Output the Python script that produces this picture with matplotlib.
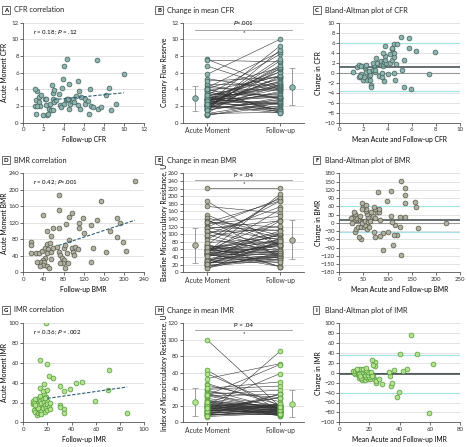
import numpy as np
import matplotlib
matplotlib.use("Agg")
import matplotlib.pyplot as plt

plt.rcParams['font.family'] = ['Lato', 'DejaVu Sans']
plt.rcParams['font.size'] = 4.8

# ---- CFR (follow-up, acute) ----
cfr_followup = [1.2, 1.25, 1.3, 1.4, 1.55, 1.6, 1.65, 1.75, 1.4, 2.0, 2.15, 2.3, 2.3, 2.4, 2.5,
                2.55, 2.65, 2.8, 3.0, 2.9, 3.0, 3.1, 3.0, 3.1, 3.25, 3.5, 3.6, 3.75, 3.85, 3.9,
                4.0, 4.05, 4.2, 4.3, 4.3, 4.45, 4.5, 4.5, 4.6, 4.8, 4.9, 5.0, 5.2, 5.4, 5.45,
                5.55, 5.6, 5.7, 6.1, 6.1, 6.45, 6.5, 6.6, 6.7, 6.9, 7.3, 7.4, 7.7, 8.2, 8.5,
                8.7, 9.2, 10.0, 1.2]
cfr_acute = [2.0, 1.1, 2.7, 3.8, 3.1, 2.5, 2.0, 3.3, 2.0, 0.9, 2.8, 2.8, 2.1, 0.9, 1.1,
             1.7, 2.3, 1.5, 1.5, 4.5, 3.6, 3.9, 2.9, 2.5, 2.7, 3.5, 2.1, 1.9, 4.2, 5.3,
             6.8, 2.2, 2.7, 2.9, 7.6, 2.8, 4.6, 1.6, 2.3, 2.6, 2.9, 2.5, 3.2, 2.1, 5.0,
             3.8, 1.6, 3.1, 2.9, 2.3, 2.6, 1.1, 4.1, 2.0, 1.9, 7.5, 1.7, 1.9, 3.3, 4.2,
             1.5, 2.3, 5.8, 4.1]

# ---- BMR ----
bmr_followup = [222, 70, 71, 155, 40, 97, 91, 118, 147, 187, 193, 135, 110, 111, 85, 71, 59, 48,
                55, 121, 172, 187, 198, 205, 165, 138, 135, 15, 15, 15, 25, 32, 37, 43, 47, 53,
                50, 48, 55, 43, 39, 35, 42, 40, 33, 27, 47, 51, 55, 60, 67, 70, 73, 77, 80,
                78, 82, 73, 81, 87, 90, 88, 97, 99, 101, 103, 108, 83]
bmr_acute = [222, 187, 151, 173, 139, 143, 135, 132, 127, 131, 119, 115, 119, 107, 117, 108, 108, 99,
             89, 95, 99, 86, 73, 52, 50, 58, 24, 74, 66, 48, 46, 46, 52, 58, 68, 70,
             57, 48, 50, 34, 30, 24, 26, 18, 16, 26, 16, 11, 32, 58, 62, 50, 42, 34, 30,
             22, 10, 22, 58, 46, 78, 22, 58, 50, 42, 62, 57, 66]

# ---- IMR ----
imr_followup = [8, 8, 9, 10, 10, 11, 11, 12, 12, 13, 13, 13, 14, 14, 14, 15, 15, 16, 16, 17,
                17, 18, 18, 19, 19, 20, 20, 20, 21, 22, 14, 16, 17, 20, 19, 14, 20, 21, 25, 30,
                34, 39, 44, 49, 71, 70, 59, 86, 34, 34, 30, 30, 22, 12, 9, 10, 15, 18]
imr_acute = [22, 18, 12, 24, 10, 7, 15, 20, 9, 25, 17, 12, 27, 22, 9, 19, 11, 24, 14, 21,
             29, 17, 10, 26, 14, 22, 18, 12, 15, 20, 35, 32, 39, 33, 100, 63, 59, 47, 45, 37,
             32, 34, 40, 41, 53, 33, 22, 9, 13, 9, 17, 15, 13, 14, 20, 17, 8, 25]

# Bland-Altman lines: lower limit, mean, upper limit
cfr_ba = [-3.7, 1.1, 5.95]
bmr_ba = [-35, 12, 62]
imr_ba = [-41, -3, 36]

# regression line start (x) as drawn in figure
fit_start = {'cfr': 3.0, 'bmr': 70, 'imr': 20}

styles = {
    'cfr': dict(fc='#8fb3ae', ec='#3f605b'),
    'bmr': dict(fc='#b2b2a0', ec='#55554a'),
    'imr': dict(fc='#b6e28e', ec='#4d9a38'),
}

W, H = 467, 447
fig = plt.figure(figsize=(W / 100, H / 100), dpi=100)

cols = [(23.3, 144), (183, 304), (339.3, 460)]
rows = [(22.7, 122.7), (173.3, 272.3), (323.3, 422.3)]
ylabel_px = [8.5, 168, 322]   # right edge of the rotated y label, figure pixels

TICK = 4.4
LAB = 4.9


def make_ax(r, c):
    x0, x1 = cols[c]
    y0, y1 = rows[r]
    ax = fig.add_axes([x0 / W, 1 - y1 / H, (x1 - x0) / W, (y1 - y0) / H])
    for s in ['top', 'right']:
        ax.spines[s].set_visible(False)
    for s in ['left', 'bottom']:
        ax.spines[s].set_color('#555555')
        ax.spines[s].set_linewidth(0.6)
    ax.tick_params(length=2, width=0.5, pad=1.2, labelsize=TICK, colors='#333333')
    ax.yaxis.grid(True, color='#dedede', lw=0.6)
    ax.set_axisbelow(True)
    ax.yaxis.set_label_coords((ylabel_px[c] - x0) / (x1 - x0), 0.5)
    return ax


def panel_title(r, c, letter, text):
    x = [4, 157, 315][c]
    y = [10, 160, 310][r]
    fig.text(x / W, 1 - y / H, letter, fontsize=4.3, fontweight='bold', va='center', ha='left',
             bbox=dict(boxstyle='square,pad=0.3', fc='white', ec='#333333', lw=0.5))
    fig.text((x + 10) / W, 1 - y / H, text, fontsize=5.3, va='center', ha='left', color='#222222')


def corr_panel(r, key, fu, ac, xlim, ylim, xt, yt, stat, xlabel, ylabel):
    ax = make_ax(r, 0)
    fu = np.array(fu, float)
    ac = np.array(ac, float)
    ax.scatter(fu, ac, s=12, lw=0.5, facecolor=styles[key]['fc'], edgecolor=styles[key]['ec'], zorder=3)
    k, b = np.polyfit(fu, ac, 1)
    xs = np.array([fit_start[key], fu.max()])
    ax.plot(xs, k * xs + b, ls=(0, (3, 1.5)), color='#2f5f78', lw=0.8, zorder=4)
    ax.set_xlim(*xlim)
    ax.set_ylim(*ylim)
    ax.set_xticks(xt)
    ax.set_yticks(yt)
    ax.set_xlabel(xlabel, fontsize=LAB, labelpad=3)
    ax.set_ylabel(ylabel, fontsize=LAB)
    ax.text(0.08, 0.9, stat, transform=ax.transAxes, fontsize=TICK, va='center')
    return ax


def paired_panel(r, key, fu, ac, ylim, yt, ylabel, ptext):
    ax = make_ax(r, 1)
    fu = np.array(fu, float)
    ac = np.array(ac, float)
    for a, f in zip(ac, fu):
        ax.plot([0, 1], [a, f], color='#333333', lw=0.4, zorder=2)
    st = styles[key]
    ax.scatter(np.zeros_like(ac), ac, s=12, lw=0.5, facecolor=st['fc'], edgecolor=st['ec'], zorder=3)
    ax.scatter(np.ones_like(fu), fu, s=12, lw=0.5, facecolor=st['fc'], edgecolor=st['ec'], zorder=3)
    for xpos, vals in [(-0.16, ac), (1.16, fu)]:
        m, sd = vals.mean(), vals.std(ddof=1)
        ax.errorbar(xpos, m, yerr=sd, fmt='o', ms=4, mfc=st['fc'], mec=st['ec'], mew=0.5,
                    ecolor='#888888', elinewidth=0.6, capsize=2.5, capthick=0.6, zorder=3)
    top = ylim[1]
    ax.plot([-0.16, 1.16], [top * 0.93, top * 0.93], color='#999999', lw=0.6, clip_on=False)
    ax.text(0.5, top * 0.925, '*', ha='center', va='top', fontsize=TICK)
    ax.text(0.5, top * 0.955, ptext, ha='center', va='bottom', fontsize=TICK)
    ax.set_xlim(-0.33, 1.33)
    ax.set_ylim(*ylim)
    ax.set_yticks(yt)
    ax.set_xticks([0, 1])
    ax.set_xticklabels(['Acute Moment', 'Follow-up'], fontsize=LAB)
    ax.set_ylabel(ylabel, fontsize=LAB)
    return ax


def ba_panel(r, key, fu, ac, lines, xlim, ylim, xt, yt, xlabel, ylabel):
    ax = make_ax(r, 2)
    fu = np.array(fu, float)
    ac = np.array(ac, float)
    mean = (fu + ac) / 2
    diff = fu - ac
    ax.axhline(0, color='#999999', lw=0.8, zorder=1)
    ax.axhline(lines[0], color='#a8e2e6', lw=0.9, zorder=1)
    ax.axhline(lines[2], color='#a8e2e6', lw=0.9, zorder=1)
    ax.axhline(lines[1], color='#3b4848', lw=1.1, zorder=1)
    st = styles[key]
    ax.scatter(mean, diff, s=12, lw=0.5, facecolor=st['fc'], edgecolor=st['ec'], zorder=3)
    ax.set_xlim(*xlim)
    ax.set_ylim(*ylim)
    ax.set_xticks(xt)
    ax.set_yticks(yt)
    ax.set_xlabel(xlabel, fontsize=LAB, labelpad=3)
    ax.set_ylabel(ylabel, fontsize=LAB)
    return ax


# Row 1 - CFR
panel_title(0, 0, 'A', 'CFR correlation')
corr_panel(0, 'cfr', cfr_followup, cfr_acute, (0, 12), (0, 12), range(0, 13, 2), range(0, 13, 2),
           'r = 0.18; $P$ = .12', 'Follow-up CFR', 'Acute Moment CFR')
panel_title(0, 1, 'B', 'Change in mean CFR')
paired_panel(0, 'cfr', cfr_followup, cfr_acute, (0, 12), range(0, 13, 2), 'Coronary Flow Reserve', '$P$<.001')
panel_title(0, 2, 'C', 'Bland-Altman plot of CFR')
ba_panel(0, 'cfr', cfr_followup, cfr_acute, cfr_ba, (0, 10), (-10, 10), range(0, 11, 2), range(-10, 11, 2),
         'Mean Acute and Follow-up CFR', 'Change in CFR')

# Row 2 - BMR
panel_title(1, 0, 'D', 'BMR correlation')
corr_panel(1, 'bmr', bmr_followup, bmr_acute, (0, 240), (0, 240), range(0, 241, 40), range(0, 241, 40),
           'r = 0.42; $P$<.001', 'Follow-up BMR', 'Acute Moment BMR')
panel_title(1, 1, 'E', 'Change in mean BMR')
paired_panel(1, 'bmr', bmr_followup, bmr_acute, (0, 260), range(0, 261, 20),
             'Baseline Microcirculatory Resistance, U', 'P = .04')
panel_title(1, 2, 'F', 'Bland-Altman plot of BMR')
ba_panel(1, 'bmr', bmr_followup, bmr_acute, bmr_ba, (0, 250), (-180, 180), range(0, 251, 50),
         range(-180, 181, 30), 'Mean Acute and Follow-up BMR', 'Change in BMR')

# Row 3 - IMR
panel_title(2, 0, 'G', 'IMR correlation')
corr_panel(2, 'imr', imr_followup, imr_acute, (0, 100), (0, 100), range(0, 101, 20), range(0, 101, 20),
           'r = 0.36; $P$ = .002', 'Follow-up IMR', 'Acute Moment IMR')
panel_title(2, 1, 'H', 'Change in mean IMR')
paired_panel(2, 'imr', imr_followup, imr_acute, (0, 120), range(0, 121, 20),
             'Index of Microcirculatory Resistance, U', 'P = .04')
panel_title(2, 2, 'I', 'Bland-Altman plot of IMR')
ba_panel(2, 'imr', imr_followup, imr_acute, imr_ba, (0, 80), (-100, 100), range(0, 81, 20),
         range(-100, 101, 20), 'Mean Acute and Follow-up IMR', 'Change in IMR')

fig.savefig('out.png', dpi=100)
